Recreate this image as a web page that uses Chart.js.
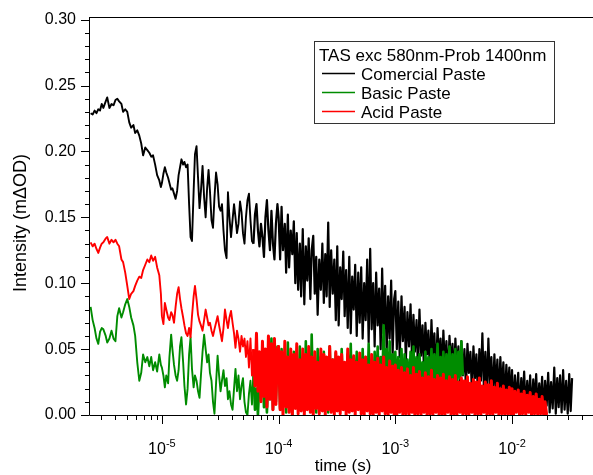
<!DOCTYPE html>
<html>
<head>
<meta charset="utf-8">
<script src="https://cdn.jsdelivr.net/npm/chart.js@4.4.0/dist/chart.umd.min.js"></script>
<style>
    html, body { margin: 0; padding: 0; background: #ffffff; }
    canvas { display: block; }
</style>
</head>
<body>
<canvas id="tasChart" width="593" height="475"></canvas>
<script>
// Sample times (microseconds), shared by the three traces
const timesUs = [
    2.45, 2.55, 2.65, 2.75, 2.85, 2.95, 3.05, 3.15, 3.3, 3.4, 3.55, 3.7, 3.85, 4, 4.15, 4.3, 4.5, 4.65, 4.85,
    5.05, 5.25, 5.45, 5.7, 5.9, 6.15, 6.4, 6.65, 6.9, 7.2, 7.5, 7.8, 8.1, 8.4, 8.75, 9.1, 9.5, 9.8,
    10, 10.3, 10.6, 10.9, 11.3, 11.6, 12, 12.3, 12.7, 13.1, 13.5, 13.9, 14.3, 14.7, 15.2, 15.6, 16.1, 16.6, 17.1, 17.6,
    18.1, 18.7, 19.2, 19.8, 20.4, 21, 21.6, 22.3, 23, 23.7, 24.4, 25.1, 25.8, 26.6, 27.4, 28.2, 29.1, 30, 30.9, 31.8,
    32.7, 33.7, 34.7, 35.8, 36.8, 37.9, 39.1, 40.3, 41.5, 42.7, 44, 45.3, 46.7, 48.1, 49.5, 51, 52.5, 54.1, 55.7, 57.4,
    59.1, 60.9, 62.7, 64.6, 66.5, 68.5, 70.6, 72.7, 74.9, 77.1, 79.4, 81.8, 84.3, 86.8, 89.4, 92.1, 94.8, 97.7,
    100, 103, 106, 109, 113, 116, 120, 123, 127, 131, 135, 139, 143, 147, 152, 156, 161, 166, 171, 176,
    181, 187, 192, 198, 204, 210, 216, 223, 230, 237, 244, 251, 258, 266, 274, 282, 291, 300, 309, 318,
    327, 337, 347, 358, 368, 379, 391, 403, 415, 427, 440, 453, 467, 481, 495, 510, 525, 541, 557, 574,
    591, 609, 627, 646, 665, 685, 706, 727, 749, 771, 794, 818, 843, 868, 894, 921, 948, 977,
    1000, 1030, 1060, 1090, 1130, 1160, 1200, 1230, 1270, 1310, 1350, 1390, 1430, 1470, 1520, 1560, 1610, 1660, 1710, 1760,
    1810, 1870, 1920, 1980, 2040, 2100, 2160, 2230, 2300, 2370, 2440, 2510, 2580, 2660, 2740, 2820, 2910, 3000, 3090, 3180,
    3270, 3370, 3470, 3580, 3680, 3790, 3910, 4030, 4150, 4270, 4400, 4530, 4670, 4810, 4950, 5100, 5250, 5410, 5570, 5740,
    5910, 6090, 6270, 6460, 6650, 6850, 7060, 7270, 7490, 7710, 7940, 8180, 8430, 8680, 8940, 9210, 9480, 9770,
    10000, 10300, 10600, 10900, 11300, 11600, 12000, 12300, 12700, 13100, 13500, 13900, 14300, 14700, 15200, 15600, 16100, 16600, 17100, 17600,
    18100, 18700, 19200, 19800, 20400, 21000, 21600, 22300, 23000, 23700, 24400, 25100, 25800, 26600, 27400, 28200, 29100, 30000, 30900, 31800,
    32700
];

// Intensity (mΔOD)
const comercialPaste = [
    0.229, 0.228, 0.231, 0.229, 0.232, 0.231, 0.236, 0.233, 0.238, 0.241,
    0.233, 0.236, 0.235, 0.239, 0.240, 0.238, 0.236, 0.230, 0.232, 0.230,
    0.222, 0.218, 0.220, 0.214, 0.216, 0.212, 0.206, 0.197, 0.203, 0.201,
    0.199, 0.196, 0.197, 0.190, 0.182, 0.178, 0.173,
    0.176, 0.183, 0.188, 0.184, 0.180, 0.176, 0.171, 0.172, 0.168, 0.164,
    0.170, 0.182, 0.188, 0.194, 0.190, 0.192, 0.188, 0.190, 0.160, 0.135,
    0.132, 0.170, 0.198, 0.204, 0.180, 0.157, 0.170, 0.189, 0.165, 0.150,
    0.172, 0.186, 0.170, 0.148, 0.142, 0.165, 0.184, 0.175, 0.158, 0.155,
    0.160, 0.140, 0.125, 0.119, 0.169, 0.150, 0.135, 0.148, 0.160, 0.150,
    0.138, 0.145, 0.162, 0.154, 0.138, 0.130, 0.150, 0.163, 0.168, 0.148,
    0.132, 0.130, 0.152, 0.160, 0.140, 0.128, 0.145, 0.135, 0.120, 0.150,
    0.163, 0.140, 0.125, 0.155, 0.130, 0.118, 0.145, 0.160,
    0.150, 0.118, 0.158, 0.125, 0.145, 0.108, 0.152, 0.112, 0.140, 0.122,
    0.147, 0.100, 0.138, 0.095, 0.130, 0.090, 0.141, 0.084, 0.128, 0.102,
    0.134, 0.088, 0.125, 0.136, 0.092, 0.120, 0.076, 0.118, 0.095, 0.130,
    0.085, 0.122, 0.090, 0.146, 0.082, 0.125, 0.092, 0.118, 0.072, 0.128,
    0.068, 0.112, 0.088, 0.124, 0.075, 0.110, 0.066, 0.120, 0.062, 0.105,
    0.080, 0.114, 0.060, 0.108, 0.070, 0.112, 0.058, 0.100, 0.072, 0.118,
    0.055, 0.126, 0.065, 0.100, 0.052, 0.108, 0.068, 0.096, 0.050, 0.111,
    0.062, 0.098, 0.048, 0.090, 0.058, 0.102, 0.046, 0.088,
    0.094, 0.050, 0.086, 0.044, 0.090, 0.056, 0.082, 0.040, 0.078, 0.052,
    0.084, 0.042, 0.076, 0.048, 0.072, 0.036, 0.080, 0.045, 0.068, 0.034,
    0.070, 0.046, 0.064, 0.032, 0.072, 0.040, 0.062, 0.030, 0.066, 0.042,
    0.058, 0.028, 0.064, 0.036, 0.056, 0.026, 0.060, 0.038, 0.054, 0.024,
    0.058, 0.034, 0.052, 0.022, 0.056, 0.030, 0.050, 0.020, 0.054, 0.032,
    0.048, 0.018, 0.052, 0.028, 0.046, 0.016, 0.050, 0.026, 0.062, 0.020,
    0.048, 0.014, 0.058, 0.024, 0.044, 0.012, 0.046, 0.020, 0.042, 0.010,
    0.044, 0.018, 0.040, 0.008, 0.038, 0.016, 0.036, 0.006,
    0.034, 0.004, 0.030, 0.010, 0.032, 0.002, 0.028, 0.008, 0.033, 0.003,
    0.026, 0.006, 0.030, 0.001, 0.027, 0.008, 0.031, 0.002, 0.024, 0.006,
    0.029, 0.000, 0.026, 0.007, 0.032, 0.002, 0.025, 0.005, 0.036, 0.001,
    0.028, 0.006, 0.030, 0.002, 0.034, 0.004, 0.026, 0.001, 0.031, 0.003,
    0.028
];

const basicPaste = [
    0.082, 0.072, 0.066, 0.058, 0.054, 0.063, 0.066, 0.065, 0.060, 0.055,
    0.058, 0.064, 0.058, 0.056, 0.075, 0.081, 0.074, 0.078, 0.084, 0.088,
    0.082, 0.074, 0.068, 0.060, 0.040, 0.026, 0.032, 0.046, 0.040, 0.044,
    0.037, 0.044, 0.034, 0.040, 0.033, 0.046, 0.038,
    0.036, 0.030, 0.021, 0.030, 0.024, 0.044, 0.061, 0.050, 0.038, 0.030,
    0.026, 0.034, 0.052, 0.059, 0.040, 0.022, 0.008, 0.020, 0.046, 0.059,
    0.035, 0.021, 0.030, 0.026, 0.018, 0.013, 0.030, 0.048, 0.061, 0.050,
    0.040, 0.046, 0.032, 0.026, 0.010, 0.001, 0.024, 0.045, 0.030, 0.018,
    0.026, 0.034, 0.022, 0.028, 0.012, 0.018, 0.008, 0.004, 0.020, 0.035,
    0.018, 0.030, 0.012, 0.022, 0.028, 0.010, 0.002, 0.000, 0.016, 0.026,
    0.008, 0.032, 0.004, 0.020, 0.000, 0.026, 0.014, 0.040, 0.006, 0.022,
    0.002, 0.030, 0.012, 0.058, 0.004, 0.034, 0.010, 0.052,
    0.045, 0.005, 0.050, 0.012, 0.038, 0.002, 0.055, 0.010, 0.042, 0.000,
    0.048, 0.008, 0.036, 0.004, 0.052, 0.015, 0.040, 0.003, 0.056, 0.012,
    0.046, 0.006, 0.061, 0.010, 0.040, 0.002, 0.050, 0.014, 0.044, 0.004,
    0.048, 0.010, 0.038, 0.002, 0.052, 0.012, 0.042, 0.006, 0.047, 0.015,
    0.040, 0.004, 0.050, 0.010, 0.036, 0.008, 0.046, 0.014, 0.054, 0.006,
    0.044, 0.012, 0.048, 0.008, 0.042, 0.016, 0.050, 0.010, 0.044, 0.006,
    0.054, 0.014, 0.040, 0.010, 0.048, 0.016, 0.052, 0.012, 0.044, 0.018,
    0.068, 0.014, 0.050, 0.010, 0.056, 0.016, 0.046, 0.012,
    0.048, 0.014, 0.044, 0.018, 0.050, 0.012, 0.046, 0.020, 0.042, 0.016,
    0.048, 0.014, 0.052, 0.020, 0.044, 0.016, 0.046, 0.022, 0.040, 0.018,
    0.048, 0.020, 0.044, 0.024, 0.050, 0.018, 0.046, 0.022, 0.054, 0.020,
    0.044, 0.026, 0.048, 0.022, 0.046, 0.024, 0.052, 0.020, 0.046, 0.026,
    0.050, 0.022, 0.048, 0.028, 0.056, 0.030
];

const acidPaste = [
    0.131, 0.128, 0.130, 0.126, 0.123, 0.127, 0.130, 0.131, 0.134, 0.135,
    0.130, 0.133, 0.131, 0.133, 0.130, 0.128, 0.118, 0.116, 0.108, 0.098,
    0.088, 0.092, 0.094, 0.098, 0.102, 0.105, 0.104, 0.110, 0.114, 0.118,
    0.116, 0.121, 0.117, 0.120, 0.112, 0.106, 0.092,
    0.075, 0.069, 0.085, 0.080, 0.074, 0.072, 0.078, 0.076, 0.070, 0.082,
    0.092, 0.097, 0.088, 0.081, 0.074, 0.068, 0.062, 0.060, 0.066, 0.059,
    0.075, 0.090, 0.098, 0.088, 0.076, 0.071, 0.068, 0.064, 0.072, 0.080,
    0.074, 0.068, 0.070, 0.064, 0.060, 0.065, 0.070, 0.075, 0.068, 0.062,
    0.056, 0.066, 0.080, 0.072, 0.066, 0.074, 0.079, 0.070, 0.062, 0.051,
    0.064, 0.058, 0.048, 0.060, 0.052, 0.058, 0.044, 0.056, 0.036, 0.058,
    0.030, 0.050, 0.022, 0.062, 0.018, 0.048, 0.010, 0.056, 0.014, 0.050,
    0.006, 0.060, 0.012, 0.054, 0.004, 0.058, 0.008, 0.050,
    0.052, 0.004, 0.048, 0.000, 0.056, 0.006, 0.044, 0.002, 0.050, 0.000,
    0.046, 0.005, 0.054, 0.001, 0.042, 0.003, 0.050, 0.000, 0.046, 0.004,
    0.052, 0.002, 0.044, 0.000, 0.048, 0.005, 0.040, 0.001, 0.050, 0.003,
    0.046, 0.000, 0.044, 0.004, 0.052, 0.002, 0.042, 0.000, 0.048, 0.003,
    0.044, 0.001, 0.046, 0.004, 0.040, 0.000, 0.050, 0.002, 0.042, 0.003,
    0.045, 0.000, 0.040, 0.004, 0.047, 0.001, 0.042, 0.000, 0.044, 0.003,
    0.038, 0.001, 0.046, 0.000, 0.040, 0.002, 0.043, 0.000, 0.038, 0.003,
    0.044, 0.001, 0.036, 0.000, 0.041, 0.002, 0.037, 0.000,
    0.038, 0.000, 0.034, 0.002, 0.036, 0.000, 0.032, 0.001, 0.035, 0.000,
    0.030, 0.002, 0.036, 0.000, 0.031, 0.001, 0.033, 0.000, 0.028, 0.002,
    0.032, 0.000, 0.029, 0.001, 0.034, 0.000, 0.027, 0.002, 0.030, 0.000,
    0.028, 0.001, 0.031, 0.000, 0.026, 0.002, 0.029, 0.000, 0.027, 0.001,
    0.030, 0.000, 0.025, 0.002, 0.028, 0.000, 0.026, 0.001, 0.029, 0.000,
    0.024, 0.002, 0.027, 0.000, 0.025, 0.001, 0.028, 0.000, 0.022, 0.002,
    0.025, 0.000, 0.023, 0.001, 0.026, 0.000, 0.021, 0.002, 0.024, 0.000,
    0.020, 0.001, 0.022, 0.000, 0.019, 0.001, 0.021, 0.000,
    0.020, 0.000, 0.018, 0.002, 0.019, 0.000, 0.016, 0.001, 0.018, 0.000,
    0.015, 0.002, 0.017, 0.000, 0.014, 0.001, 0.016, 0.000, 0.012, 0.001,
    0.014, 0.000, 0.010, 0.000
];

const seriesLabels = ['Comercial Paste', 'Basic Paste', 'Acid Paste'];
const seriesColors = ['#000000', '#008c00', '#ff0000'];
// trace width before / after ~60 µs, where the records turn into a dense noise band
const lineWidths = [1.9, 1.9, 1.9];
const denseWidths = [2.2, 2.6, 3.0];
const legendTitle = 'TAS exc 580nm-Prob 1400nm';
const xTitle = 'time (s)';
const yTitle = 'Intensity (m\u0394OD)';
const xLabelDecades = [1e-5, 1e-4, 1e-3, 1e-2];

const FONT = '"Liberation Sans", Arial, sans-serif';

function toPoints(values) {
    return values.map((v, i) => ({ x: timesUs[i] * 1e-6, y: v }));
}

// axis frame, minor ticks, superscript labels, titles and boxed legend
const tasDecor = {
    id: 'tasDecor',
    afterDraw(chart) {
        const { ctx, chartArea: a, scales: { x, y } } = chart;
        ctx.save();
        ctx.strokeStyle = '#000';
        ctx.lineWidth = 1;

        ctx.beginPath();
        ctx.moveTo(a.left + 0.5, a.top);
        ctx.lineTo(a.left + 0.5, a.bottom + 0.5);
        ctx.lineTo(a.right, a.bottom + 0.5);
        ctx.moveTo(a.left, a.top + 0.5);
        ctx.lineTo(a.right, a.top + 0.5);

        // y ticks every 0.01, long ones every 0.05
        for (let k = 0; k <= 30; k++) {
            const py = Math.round(y.getPixelForValue(k / 100)) + 0.5;
            const len = k % 5 === 0 ? 8 : 4;
            ctx.moveTo(a.left, py);
            ctx.lineTo(a.left - len, py);
        }

        // log x ticks
        for (let e = -6; e <= -2; e++) {
            for (let m = 1; m <= 9; m++) {
                const t = m * Math.pow(10, e);
                if (t < x.min || t > x.max) continue;
                const px = Math.round(x.getPixelForValue(t)) + 0.5;
                const len = m === 1 ? 9 : 5;
                ctx.moveTo(px, a.bottom);
                ctx.lineTo(px, a.bottom + len);
            }
        }
        ctx.stroke();

        // decade labels 10^n
        ctx.fillStyle = '#000';
        ctx.textBaseline = 'alphabetic';
        ctx.textAlign = 'left';
        xLabelDecades.forEach(d => {
            const px = x.getPixelForValue(d);
            const expo = String(Math.round(Math.log10(d)));
            ctx.font = '16px ' + FONT;
            const wBase = ctx.measureText('10').width;
            ctx.font = '11px ' + FONT;
            const wExp = ctx.measureText(expo).width;
            const left = px - (wBase + wExp) / 2;
            ctx.font = '16px ' + FONT;
            ctx.fillText('10', left, 454);
            ctx.font = '11px ' + FONT;
            ctx.fillText(expo, left + wBase, 447);
        });

        // axis titles
        ctx.font = '17px ' + FONT;
        ctx.textAlign = 'center';
        ctx.fillText(xTitle, (a.left + a.right) / 2 + 2, 471);
        ctx.save();
        ctx.translate(21, 223);
        ctx.rotate(-Math.PI / 2);
        ctx.textBaseline = 'middle';
        ctx.font = '18px ' + FONT;
        ctx.fillText(yTitle, 0, 0);
        ctx.restore();

        // legend box
        ctx.strokeStyle = '#333';
        ctx.strokeRect(314.5, 41.5, 240, 82);
        ctx.font = '17px ' + FONT;
        ctx.textAlign = 'left';
        ctx.fillStyle = '#000';
        ctx.fillText(legendTitle, 319, 61);
        seriesLabels.forEach((label, i) => {
            const ly = 73.5 + i * 19;
            ctx.strokeStyle = seriesColors[i];
            ctx.lineWidth = 1.3;
            ctx.beginPath();
            ctx.moveTo(322, ly);
            ctx.lineTo(355, ly);
            ctx.stroke();
            ctx.fillStyle = '#000';
            ctx.fillText(label, 361, ly + 6);
        });
        ctx.restore();
    }
};

const ctx = document.getElementById('tasChart').getContext('2d');
const seriesData = [comercialPaste, basicPaste, acidPaste];

new Chart(ctx, {
    type: 'line',
    data: {
        datasets: seriesData.map((values, i) => ({
            label: seriesLabels[i],
            data: toPoints(values),
            borderColor: seriesColors[i],
            borderWidth: lineWidths[i],
            borderJoinStyle: 'round',
            segment: {
                borderWidth: c => (c.p0.parsed.x > 6e-5 ? denseWidths[i] : lineWidths[i])
            },
            pointRadius: 0,
            fill: false,
            tension: 0,
            order: 2 - i   // acid on top, commercial underneath
        }))
    },
    options: {
        responsive: false,
        animation: false,
        devicePixelRatio: 1,
        layout: { padding: { top: 17, left: 0, right: 0, bottom: 0 } },
        plugins: {
            legend: { display: false },
            tooltip: { enabled: false }
        },
        scales: {
            x: {
                type: 'logarithmic',
                min: 2.373e-6,
                max: 4.94e-2,
                grid: { display: false, drawTicks: false },
                border: { display: false },
                ticks: { display: false },
                afterFit: scale => { scale.height = 60; }
            },
            y: {
                min: 0,
                max: 0.302,
                grid: { display: false, drawTicks: true, tickLength: 8 },
                border: { display: false },
                ticks: {
                    stepSize: 0.05,
                    includeBounds: false,
                    padding: 5,
                    color: '#000',
                    font: { family: FONT, size: 16 },
                    callback: v => v.toFixed(2)
                },
                afterFit: scale => { scale.width = 89; }
            }
        }
    },
    plugins: [tasDecor]
});
</script>
</body>
</html>
